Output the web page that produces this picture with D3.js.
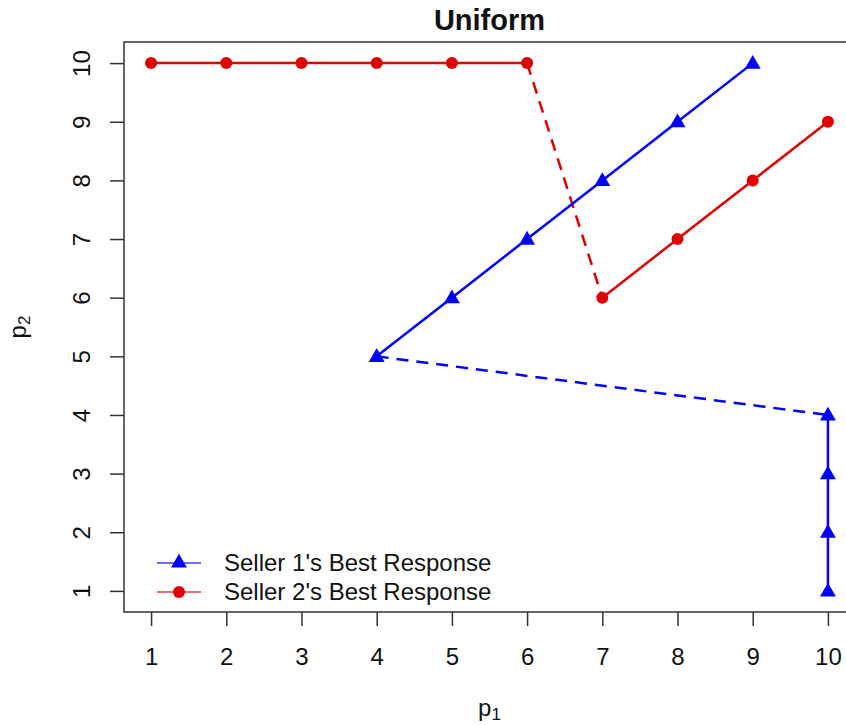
<!DOCTYPE html>
<html lang="en">
<head>
    <meta charset="UTF-8">
    <title>Uniform</title>
    <script src="https://cdnjs.cloudflare.com/ajax/libs/d3/7.8.5/d3.min.js"></script>
    <style>
        body {
            margin: 0;
            padding: 0;
            background: #fff;
            overflow: hidden;
        }
        svg text {
            font-family: "Liberation Sans", Arial, sans-serif;
            fill: #111;
        }
    </style>
</head>
<body>
    <svg width="846" height="725"></svg>
    <script>
        // Seller 1's best response (blue, triangles)
        const seller1A_p1 = [4, 5, 6, 7, 8, 9];
        const seller1A_p2 = [5, 6, 7, 8, 9, 10];
        const seller1B_p1 = [10, 10, 10, 10];
        const seller1B_p2 = [4, 3, 2, 1];

        // Seller 2's best response (red, circles)
        const seller2A_p1 = [1, 2, 3, 4, 5, 6];
        const seller2A_p2 = [10, 10, 10, 10, 10, 10];
        const seller2B_p1 = [7, 8, 9, 10];
        const seller2B_p2 = [6, 7, 8, 9];

        const xTicks = [1, 2, 3, 4, 5, 6, 7, 8, 9, 10];
        const yTicks = [1, 2, 3, 4, 5, 6, 7, 8, 9, 10];
        const legendLabels = ["Seller 1's Best Response", "Seller 2's Best Response"];

        const blue = "#0000ff";
        const red = "#e00000";
        const fs = 24;

        const svg = d3.select("svg");
        const plotL = 124, plotR = 855, plotT = 42, plotB = 612;

        // R style: data range padded by 4%
        const x = d3.scaleLinear().domain([0.64, 10.36]).range([plotL, plotR]);
        const y = d3.scaleLinear().domain([0.64, 10.36]).range([plotB, plotT]);

        const zip = (a, b) => a.map((v, i) => [v, b[i]]);
        const s1a = zip(seller1A_p1, seller1A_p2);
        const s1b = zip(seller1B_p1, seller1B_p2);
        const s2a = zip(seller2A_p1, seller2A_p2);
        const s2b = zip(seller2B_p1, seller2B_p2);

        const line = d3.line().x(d => x(d[0])).y(d => y(d[1]));

        // axes
        const xAxis = svg.append("g")
            .attr("transform", `translate(0,${plotB})`)
            .call(d3.axisBottom(x).tickValues(xTicks).tickSize(14).tickPadding(22).tickSizeOuter(0));
        xAxis.select(".domain").remove();
        xAxis.selectAll("line").attr("stroke", "#333").attr("stroke-width", 1.5);
        xAxis.selectAll("text").attr("font-size", fs).style("font-family", "Liberation Sans, Arial, sans-serif").attr("fill", "#111");

        const yAxis = svg.append("g")
            .attr("transform", `translate(${plotL},0)`)
            .call(d3.axisLeft(y).tickValues(yTicks).tickSize(14).tickSizeOuter(0));
        yAxis.select(".domain").remove();
        yAxis.selectAll("line").attr("stroke", "#333").attr("stroke-width", 1.5);
        yAxis.selectAll("text").remove();
        yAxis.selectAll(".tick").append("text")
            .attr("transform", "translate(-34,0) rotate(-90)")
            .attr("text-anchor", "middle")
            .attr("font-size", fs)
            .text(d => d);

        // box
        svg.append("rect")
            .attr("x", plotL).attr("y", plotT)
            .attr("width", plotR - plotL).attr("height", plotB - plotT)
            .attr("fill", "none").attr("stroke", "#333").attr("stroke-width", 1.5);

        // dashed jumps
        svg.append("path").datum([s1a[0], s1b[0]])
            .attr("d", line).attr("fill", "none")
            .attr("stroke", blue).attr("stroke-width", 2.5).attr("stroke-dasharray", "12,8");
        svg.append("path").datum([s2a[s2a.length - 1], s2b[0]])
            .attr("d", line).attr("fill", "none")
            .attr("stroke", red).attr("stroke-width", 2.5).attr("stroke-dasharray", "12,8");

        // solid lines
        [s1a, s1b].forEach(d => svg.append("path").datum(d).attr("d", line)
            .attr("fill", "none").attr("stroke", blue).attr("stroke-width", 2.5));
        [s2a, s2b].forEach(d => svg.append("path").datum(d).attr("d", line)
            .attr("fill", "none").attr("stroke", red).attr("stroke-width", 2.5));

        const tri = d3.symbol().type(d3.symbolTriangle).size(110);

        svg.append("g").selectAll("path")
            .data(s1a.concat(s1b))
            .join("path")
            .attr("d", tri)
            .attr("transform", d => `translate(${x(d[0])},${y(d[1]) + 1})`)
            .attr("fill", blue);

        svg.append("g").selectAll("circle")
            .data(s2a.concat(s2b))
            .join("circle")
            .attr("cx", d => x(d[0])).attr("cy", d => y(d[1]))
            .attr("r", 6).attr("fill", red);

        // title and axis labels
        svg.append("text")
            .attr("x", (plotL + plotR) / 2).attr("y", 30)
            .attr("text-anchor", "middle")
            .attr("font-size", 29).attr("font-weight", "bold")
            .text("Uniform");

        const xl = svg.append("text")
            .attr("x", (plotL + plotR) / 2).attr("y", 716)
            .attr("text-anchor", "middle").attr("font-size", fs);
        xl.append("tspan").text("p");
        xl.append("tspan").attr("font-size", 17).attr("dy", 4).text("1");

        const yl = svg.append("text")
            .attr("transform", `translate(26,${(plotT + plotB) / 2}) rotate(-90)`)
            .attr("text-anchor", "middle").attr("font-size", fs);
        yl.append("tspan").text("p");
        yl.append("tspan").attr("font-size", 17).attr("dy", 4).text("2");

        // legend
        const legend = svg.append("g");
        const legendColors = [blue, red];
        legendLabels.forEach((lab, i) => {
            const ly = 563 + i * 29;
            legend.append("line")
                .attr("x1", 157).attr("x2", 201).attr("y1", ly).attr("y2", ly)
                .attr("stroke", legendColors[i]).attr("stroke-width", 1.5).attr("opacity", 0.75);
            if (i === 0) {
                legend.append("path").attr("d", tri)
                    .attr("transform", `translate(179,${ly})`).attr("fill", blue);
            } else {
                legend.append("circle").attr("cx", 179).attr("cy", ly).attr("r", 6).attr("fill", red);
            }
            legend.append("text")
                .attr("x", 224).attr("y", ly).attr("dy", "0.35em")
                .attr("font-size", fs)
                .text(lab);
        });
    </script>
</body>
</html>
